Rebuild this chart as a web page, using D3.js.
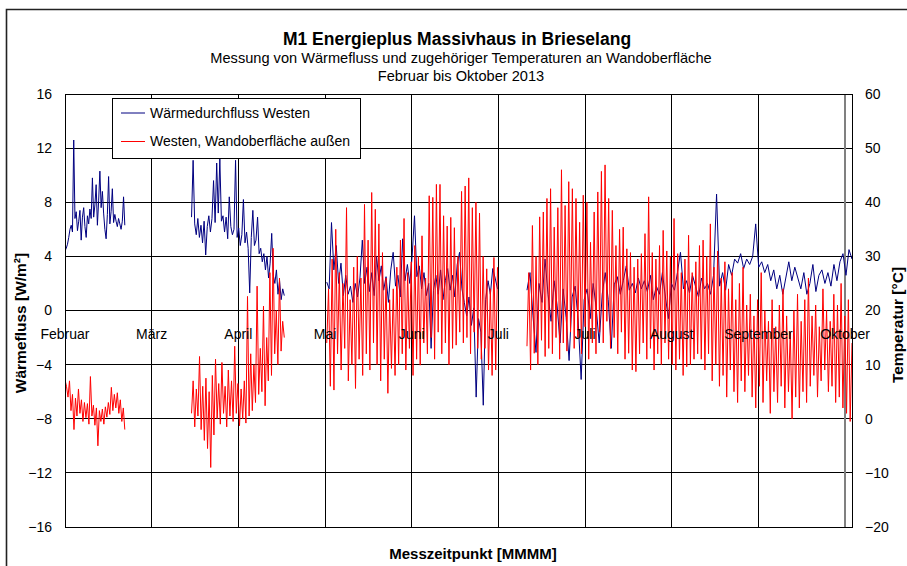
<!DOCTYPE html>
<html>
<head>
<meta charset="utf-8">
<script src="https://cdn.jsdelivr.net/npm/d3@7"></script>
<style>
  body { margin: 0; background: #fff; }
  svg { font-family: "Liberation Sans", Arial, sans-serif; }
</style>
</head>
<body>
<div id="chart"></div>
<script>
/* Wärmefluss / Oberflächentemperatur chart */

var width = 907,
    height = 566;
var margin = { top: 94, left: 65, bottom: 527, right: 852 };

// axis ticks + labels
var fluxTicks = [-16, -12, -8, -4, 0, 4, 8, 12, 16];
var tempTicks = [-20, -10, 0, 10, 20, 30, 40, 50, 60];
var months = ["Februar", "März", "April", "Mai", "Juni", "Juli", "Juli", "August", "September", "Oktober"];

// start / end of each measuring period (in month-gridline units)
var periodStart = [0, 1.46, 3.02, 5.33];
var periodEnd = [0.69, 2.53, 4.99, 9.08];

// Wärmedurchfluss Westen [W/m²]
var fluxFeb = [4.4,4.6,4.9,5.4,6.0,6.3,5.8,12.6,6.8,7.3,5.9,6.6,7.4,5.2,6.9,7.6,6.2,5.4,7.0,6.4,7.5,6.8,9.8,6.9,7.8,9.3,6.3,8.1,10.3,7.6,8.8,7.2,6.0,5.3,7.1,9.9,6.4,7.3,9.0,6.5,7.1,6.6,6.2,6.8,6.4,6.0,6.6,8.4,6.3];
var fluxMar = [6.9,11.1,6.4,5.6,6.8,5.4,6.3,5.0,6.6,4.1,6.2,7.0,5.8,6.8,9.6,6.5,10.9,7.2,11.2,6.6,7.0,5.8,6.9,5.3,8.4,6.2,5.6,6.0,11.1,5.4,6.1,4.8,5.6,8.2,5.0,5.8,4.6,1.3,5.4,7.4,4.8,5.2,6.9,4.2,4.6,3.6,4.2,3.0,4.0,2.4,3.5,5.7,2.6,2.0,3.0,1.2,2.2,0.8,1.6,1.1];
var fluxMay = [2.1,1.6,6.5,3.0,4.8,2.0,3.5,1.1,2.6,1.2,1.8,0.6,2.0,1.0,2.4,5.2,2.0,3.2,1.4,2.8,1.1,4.0,2.2,3.3,1.5,2.5,0.6,3.0,4.3,1.8,2.6,1.0,5.3,2.2,3.4,2.0,4.0,7.0,2.5,3.3,1.6,2.8,1.1,2.0,-2.8,1.5,2.6,1.2,3.0,0.8,2.2,3.1,1.5,2.6,1.0,3.4,4.3,1.6,0.6,-0.4,1.0,-1.1,0.2,-6.4,-0.6,-1.6,-7.0,0.8,2.2,1.2,3.1,2.4,1.6];
var fluxJul = [1.5,2.8,-0.4,-3.1,2.0,0.6,3.8,1.2,-0.8,2.2,
               0.4,-2.4,1.6,-0.5,-3.7,1.0,1.8,-0.7,-5.1,0.8,
               1.6,-0.6,2.0,0.2,-2.4,1.2,2.8,0.8,-2.8,1.9,
               2.5,1.2,2.2,3.3,1.5,2.0,1.3,2.4,1.6,2.2,
               1.4,2.6,0.8,1.8,1.2,2.8,1.0,-0.6,2.0,1.5,
               2.8,4.3,1.6,2.2,1.3,2.6,1.8,1.0,2.4,1.6,
               2.0,1.2,2.6,8.6,1.8,2.8,1.5,3.4,2.6,3.8,
               3.5,4.2,3.1,3.8,3.4,4.0,6.4,3.2,3.6,2.8,
               3.4,2.2,3.0,1.6,2.6,1.2,2.4,3.6,2.2,3.2,
               2.4,1.6,2.8,1.2,2.0,3.4,1.4,2.6,3.0,2.0,
               2.8,1.8,3.4,2.2,3.6,4.2,2.6,4.5,3.8];

// Westen, Wandoberfläche außen [°C]
var tempFeb = [7.2,6.0,4.0,7.0,1.5,4.5,-2.0,3.8,0.5,5.5,1.0,3.5,-0.5,3.0,0.2,2.8,-1.0,7.8,0.5,2.5,-1.2,2.0,-5.0,1.5,-0.5,1.8,-1.0,2.2,0.3,3.0,0.8,5.8,1.5,4.5,2.0,4.8,1.0,3.5,-0.5,2.0,-2.0];
var tempMar = [1.0,7.0,-1.5,5.5,0.5,11.5,-2.0,6.0,-4.0,7.5,-5.5,5.0,-9.0,8.0,-3.0,11.0,0.0,6.5,-1.0,10.4,1.0,6.0,-1.5,9.0,0.5,7.0,-0.5,13.4,1.0,6.5,-1.3,5.5,0.0,7.0,-0.8,22.6,0.5,12.0,1.5,10.0,3.0,24.5,4.5,13.0,5.0,20.8,2.4,15.0,7.0,27.0,8.0,31.5,12.0,20.0,10.0,26.0,12.5,18.0,15.0];
var tempMayMax = [24,29.5,35,27,25,39,22,28,30,26,39.6,33,41.8,38.7,36,30.7,26,22,24,28,33,37,27,29,32,30,33.8,26,41.2,40.9,43.3,43.3,37.5,35.6,37.2,35.3,30,42,43,44.5,39,40,38,30,27.7,24,29.8,28];
var tempMayMin = [14,6,5.3,12,9,13,7,10,5.6,11,8,12,9,14,10,7,11,4.7,9.3,8,10,12,9,13,8,11,9.9,14,12,15,11,16,12,14,10,13,13.6,16,14,15,12,16,13,11,13,9,8,9];
var tempJulMax = [27,35.7,30,37.3,38.2,40.7,42.5,35.4,39,46,39.4,43.8,42.5,40.7,36.3,41.3,40,32.6,38.2,41.9,45.7,46.9,40.7,38.5,32,35,35.4,31.4,30.7,28,29.5,30.5,34.2,41,30.7,29.5,32,34.8,31,30,37,30.5,27,29.5,33.9,27,29,32,
                  33,30,36,28,31,26,29,24,27,22,25,28,21,23,19,22,27,20,18,22,17,21,24,19,16,20,23,18,22,26,19,21,17,24,20,18,23,21,25,19,22,14];
var tempJulMin = [13.4,9,12.1,10,14.5,11.5,13,12,15,11,14,12.5,16,13,15,12,17,11,14,12,16,14,18,13,15,12,16,11,12.1,9,8.7,12,14,11,13,9,12,10,14,11,10,9,11,8,9.6,10,11,12,
                  11,9,12,7,10,6,8,4,9,5,3,7,5,8,4,2,6,3,7,1,5,3,6,2,5,0,4,2,5,3,6,8,4,7,9,5,6,3,4,2,1,-0.5];

function interleave(mins, maxs) {
  return d3.merge(mins.map(function(m, i) { return [m, maxs[i]]; }));
}

var fluxPeriods = [fluxFeb, fluxMar, fluxMay, fluxJul];
var tempPeriods = [tempFeb, tempMar, interleave(tempMayMin, tempMayMax), interleave(tempJulMin, tempJulMax)];

function toPoints(values, p) {
  var x0 = periodStart[p], x1 = periodEnd[p], n = values.length;
  return values.map(function(v, i) { return { t: x0 + i * (x1 - x0) / (n - 1), v: v }; });
}

var svg = d3.select("#chart").append("svg")
    .attr("width", width)
    .attr("height", height);

var x = d3.scaleLinear().domain([0, 9.08]).range([margin.left, margin.right]);
var yFlux = d3.scaleLinear().domain([-16, 16]).range([margin.bottom, margin.top]);
var yTemp = d3.scaleLinear().domain([-20, 60]).range([margin.bottom, margin.top]);

// outer frame
svg.append("path")
    .attr("d", "M6.5," + height + "V9.5H" + width)
    .attr("fill", "none")
    .attr("stroke", "#222")
    .attr("stroke-width", 1.6);

// titles
svg.append("text").attr("x", 457).attr("y", 45)
    .attr("text-anchor", "middle").style("font-size", "17.5px").style("font-weight", "bold")
    .text("M1 Energieplus Massivhaus in Brieselang");
svg.append("text").attr("x", 461).attr("y", 63)
    .attr("text-anchor", "middle").style("font-size", "14.6px")
    .text("Messung von Wärmefluss und zugehöriger Temperaturen an Wandoberfläche");
svg.append("text").attr("x", 461).attr("y", 81)
    .attr("text-anchor", "middle").style("font-size", "14.6px")
    .text("Februar bis Oktober 2013");

// grid
var grid = svg.append("g").attr("shape-rendering", "crispEdges");
grid.selectAll("line.h")
    .data(fluxTicks)
  .enter().append("line")
    .attr("x1", margin.left).attr("x2", margin.right)
    .attr("y1", function(d) { return yFlux(d); })
    .attr("y2", function(d) { return yFlux(d); })
    .attr("stroke", "#000");
grid.selectAll("line.v")
    .data(d3.range(1, 9))
  .enter().append("line")
    .attr("x1", function(d) { return x(d); })
    .attr("x2", function(d) { return x(d); })
    .attr("y1", margin.top).attr("y2", margin.bottom)
    .attr("stroke", "#000");
grid.append("line")
    .attr("x1", x(9)).attr("x2", x(9))
    .attr("y1", margin.top).attr("y2", margin.bottom)
    .attr("stroke", "#808080").attr("stroke-width", 2);

// data lines
var clip = svg.append("clipPath").attr("id", "plot").append("rect")
    .attr("x", margin.left).attr("y", margin.top)
    .attr("width", margin.right - margin.left).attr("height", margin.bottom - margin.top);

var fluxLine = d3.line().x(function(d) { return x(d.t); }).y(function(d) { return yFlux(d.v); });
var tempLine = d3.line().x(function(d) { return x(d.t); }).y(function(d) { return yTemp(d.v); });

var series = svg.append("g").attr("clip-path", "url(#plot)");
series.selectAll("path.flux")
    .data(fluxPeriods.map(toPoints))
  .enter().append("path")
    .attr("d", fluxLine)
    .attr("fill", "none")
    .attr("stroke", "#000080")
    .attr("stroke-width", 1);
series.selectAll("path.temp")
    .data(tempPeriods.map(toPoints))
  .enter().append("path")
    .attr("d", tempLine)
    .attr("fill", "none")
    .attr("stroke", "#ff0000")
    .attr("stroke-width", 1);

// plot border
svg.append("rect")
    .attr("x", margin.left).attr("y", margin.top)
    .attr("width", margin.right - margin.left).attr("height", margin.bottom - margin.top)
    .attr("fill", "none").attr("stroke", "#000").attr("shape-rendering", "crispEdges");

// axes
var leftAxis = svg.append("g")
    .attr("transform", "translate(" + margin.left + ",0)")
    .call(d3.axisLeft(yFlux).tickValues(fluxTicks).tickSize(0).tickPadding(13));
var rightAxis = svg.append("g")
    .attr("transform", "translate(" + margin.right + ",0)")
    .call(d3.axisRight(yTemp).tickValues(tempTicks).tickSize(0).tickPadding(13));
[leftAxis, rightAxis].forEach(function(a) {
  a.select(".domain").remove();
  a.selectAll("text").style("font-size", "14px").style("font-family", "Liberation Sans, Arial, sans-serif").attr("fill", "#000");
});

// month labels on the zero line
svg.selectAll("text.month")
    .data(months)
  .enter().append("text")
    .attr("x", function(d, i) { return x(i); })
    .attr("y", yFlux(0) + 28)
    .attr("text-anchor", "middle")
    .style("font-size", "14px")
    .text(function(d) { return d; });

// axis titles
svg.append("text")
    .attr("transform", "translate(26,323) rotate(-90)")
    .attr("text-anchor", "middle").style("font-size", "15.5px").style("font-weight", "bold")
    .text("Wärmefluss [W/m²]");
svg.append("text")
    .attr("transform", "translate(903,325) rotate(-90)")
    .attr("text-anchor", "middle").style("font-size", "15.5px").style("font-weight", "bold")
    .text("Temperatur [°C]");
svg.append("text")
    .attr("x", 473).attr("y", 559)
    .attr("text-anchor", "middle").style("font-size", "15px").style("font-weight", "bold")
    .text("Messzeitpunkt [MMMM]");

// legend
var legend = svg.append("g");
legend.append("rect")
    .attr("x", 112).attr("y", 98).attr("width", 248).attr("height", 60)
    .attr("fill", "#fff").attr("stroke", "#000").attr("shape-rendering", "crispEdges");
var legendItems = [
  { label: "Wärmedurchfluss Westen", color: "#000080" },
  { label: "Westen, Wandoberfläche außen", color: "#ff0000" }
];
var item = legend.selectAll("g.item")
    .data(legendItems)
  .enter().append("g")
    .attr("transform", function(d, i) { return "translate(0," + (113 + i * 28.5) + ")"; });
item.append("line")
    .attr("x1", 121).attr("x2", 145)
    .attr("stroke", function(d) { return d.color; });
item.append("text")
    .attr("x", 150).attr("dy", "0.35em")
    .style("font-size", "14px")
    .text(function(d) { return d.label; });
</script>
</body>
</html>
